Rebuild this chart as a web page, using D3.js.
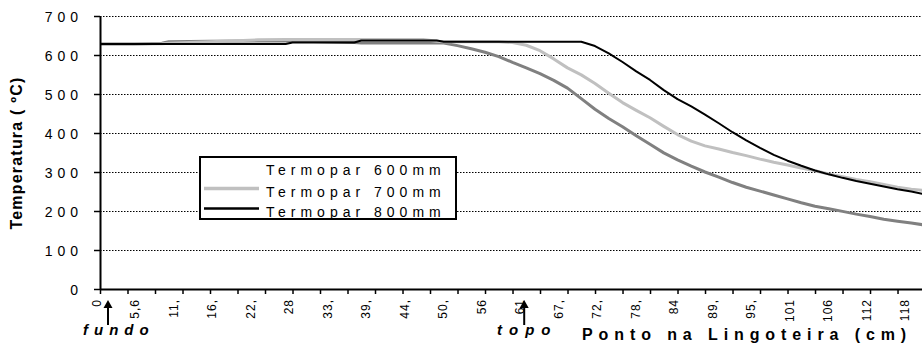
<!DOCTYPE html>
<html><head><meta charset="utf-8">
<script src="https://cdn.jsdelivr.net/npm/d3@7/dist/d3.min.js"></script>
<style>
body{margin:0;background:#fff;}
svg{display:block;font-family:"Liberation Sans",Arial,sans-serif;}
</style></head><body>
<svg id="c" width="922" height="348"></svg>
<script>
// ---- data ----
const positions = [0,5,9,10,16,23,27,28,37,38,47,49,50,52,54,56,58,60,62,64,66,68,70,72,74,76,78,80,82,84,86,88,90,92,94,96,98,100,102,104,106,108,110,112,114,116,118,119.6];
const t600 = [628,628,630,634,635,636,636,636,632,631,631,631,631,624,616,607,596,581,567,552,535,515,488,461,437,416,393,371,349,331,315,300,287,273,261,251,241,231,221,212,206,199,192,186,179,174,169,165];
const t700 = [628,628,629,630,634,639,640,640,640,640,640,635,634,634,634,634,634,632,625,611,590,567,549,527,502,478,458,439,417,396,379,367,359,350,342,333,325,318,310,303,295,288,281,275,268,261,256,253];
const t800 = [628,628,628,628,628,628,628,632,632,637,637,637,634,634,634,634,634,634,634,634,634,634,634,623,604,582,558,536,510,487,468,447,425,402,381,362,344,329,316,304,294,285,277,270,263,256,250,244];
const seriesNames = ["Termopar 600mm","Termopar 700mm","Termopar 800mm"];
const xLabelPos = [0,5.6,11.2,16.8,22.4,28,33.6,39.2,44.8,50.4,56,61.6,67.2,72.8,78.4,84,89.6,95.2,100.8,106.4,112,117.6];
const xLabels = ["0","5,6","11,","16,","22,","28","33,","39,","44,","50,","56","61","67,","72,","78,","84","89,","95,","101","106","112","118"];
const xTickPos = d3.range(0, 117, 4);
const yTicks = [0,100,200,300,400,500,600,700];

// ---- chart ----
const svg = d3.select("#c");
const x = d3.scaleLinear().domain([0, 119.56]).range([100, 922]);
const y = d3.scaleLinear().domain([0, 700]).range([289, 16]);

// gridlines
svg.append("g").selectAll("line").data(yTicks.filter(d=>d>0)).join("line")
  .attr("x1", 100).attr("x2", 922)
  .attr("y1", d=>y(d)+0.5).attr("y2", d=>y(d)+0.5)
  .attr("stroke", "#000").attr("stroke-width", 1).attr("stroke-dasharray", "1.5 1.5");

// lines
const colors = ["#808080", "#c0c0c0", "#000000"];
const widths = [3, 3, 2];
const all = [t600, t700, t800];
const line = d3.line().x((d,i)=>x(positions[i])).y(d=>y(d));
all.forEach((s,k)=>{
  svg.append("path").datum(s).attr("d", line)
    .attr("fill","none").attr("stroke", colors[k]).attr("stroke-width", widths[k])
    .attr("stroke-linejoin","round");
});

// y axis
const ya = svg.append("g").attr("transform","translate(100,0)")
  .call(d3.axisLeft(y).tickValues(yTicks).tickSize(6).tickSizeOuter(0).tickPadding(0));
ya.select(".domain").attr("stroke-width", 2);
ya.selectAll(".tick line").attr("stroke-width", 1.5);
ya.selectAll(".tick text").attr("x", -17).attr("dy","0.36em")
  .style("font-size","14px").style("letter-spacing","5px").attr("fill","#000");

// x axis ticks
const xa = svg.append("g").attr("transform","translate(0,289)")
  .call(d3.axisBottom(x).tickValues(xTickPos).tickSize(5).tickSizeOuter(0).tickFormat(""));
xa.select(".domain").attr("stroke-width", 2);
xa.selectAll(".tick line").attr("stroke-width", 1.5);

// x axis labels
const xl = svg.append("g").attr("transform","translate(0,289)")
  .call(d3.axisBottom(x).tickValues(xLabelPos).tickSize(0).tickFormat((d,i)=>xLabels[i]));
xl.select(".domain").remove();
xl.selectAll(".tick text")
  .attr("transform","rotate(-90)").attr("text-anchor","end")
  .attr("x", -10).attr("y", 0).attr("dy", "0")
  .style("font-size","12px").style("letter-spacing","1px").attr("fill","#000");

// axis titles
svg.append("text").attr("transform","translate(22,153) rotate(-90)")
  .attr("text-anchor","middle").style("font-size","16px").style("font-weight","bold")
  .style("letter-spacing","1.2px").text("Temperatura ( ºC)");
svg.append("text").attr("x", 582).attr("y", 340)
  .style("font-size","16px").style("font-weight","bold").style("letter-spacing","5.9px")
  .text("Ponto na Lingoteira (cm)");

// annotations
function arrow(cx){
  svg.append("line").attr("x1",cx).attr("x2",cx).attr("y1",325).attr("y2",306)
    .attr("stroke","#000").attr("stroke-width",2);
  svg.append("path").attr("d",`M${cx-4.5},308 L${cx},300 L${cx+4.5},308 Z`).attr("fill","#000");
}
arrow(x(1.16));
arrow(x(61.7));
svg.append("text").attr("x",83).attr("y",335).style("font-size","15px").style("font-weight","bold")
  .style("font-style","italic").style("letter-spacing","6px").text("fundo");
svg.append("text").attr("x",497).attr("y",335).style("font-size","15px").style("font-weight","bold")
  .style("font-style","italic").style("letter-spacing","7px").text("topo");

// legend
const lg = svg.append("g");
lg.append("rect").attr("x",200).attr("y",157).attr("width",256).attr("height",62)
  .attr("fill","#fff").attr("stroke","#000").attr("stroke-width",2);
const rowsY = [175, 196.5, 216.5];
seriesNames.forEach((n,k)=>{
  if (k>0) lg.append("line").attr("x1",204).attr("x2",259).attr("y1",rowsY[k]-8).attr("y2",rowsY[k]-8)
    .attr("stroke",colors[k]).attr("stroke-width",widths[k]+0.5);
  lg.append("text").attr("x",266).attr("y",rowsY[k]).style("font-size","14px")
    .style("letter-spacing","5px").text(n);
});
</script>
</body></html>
